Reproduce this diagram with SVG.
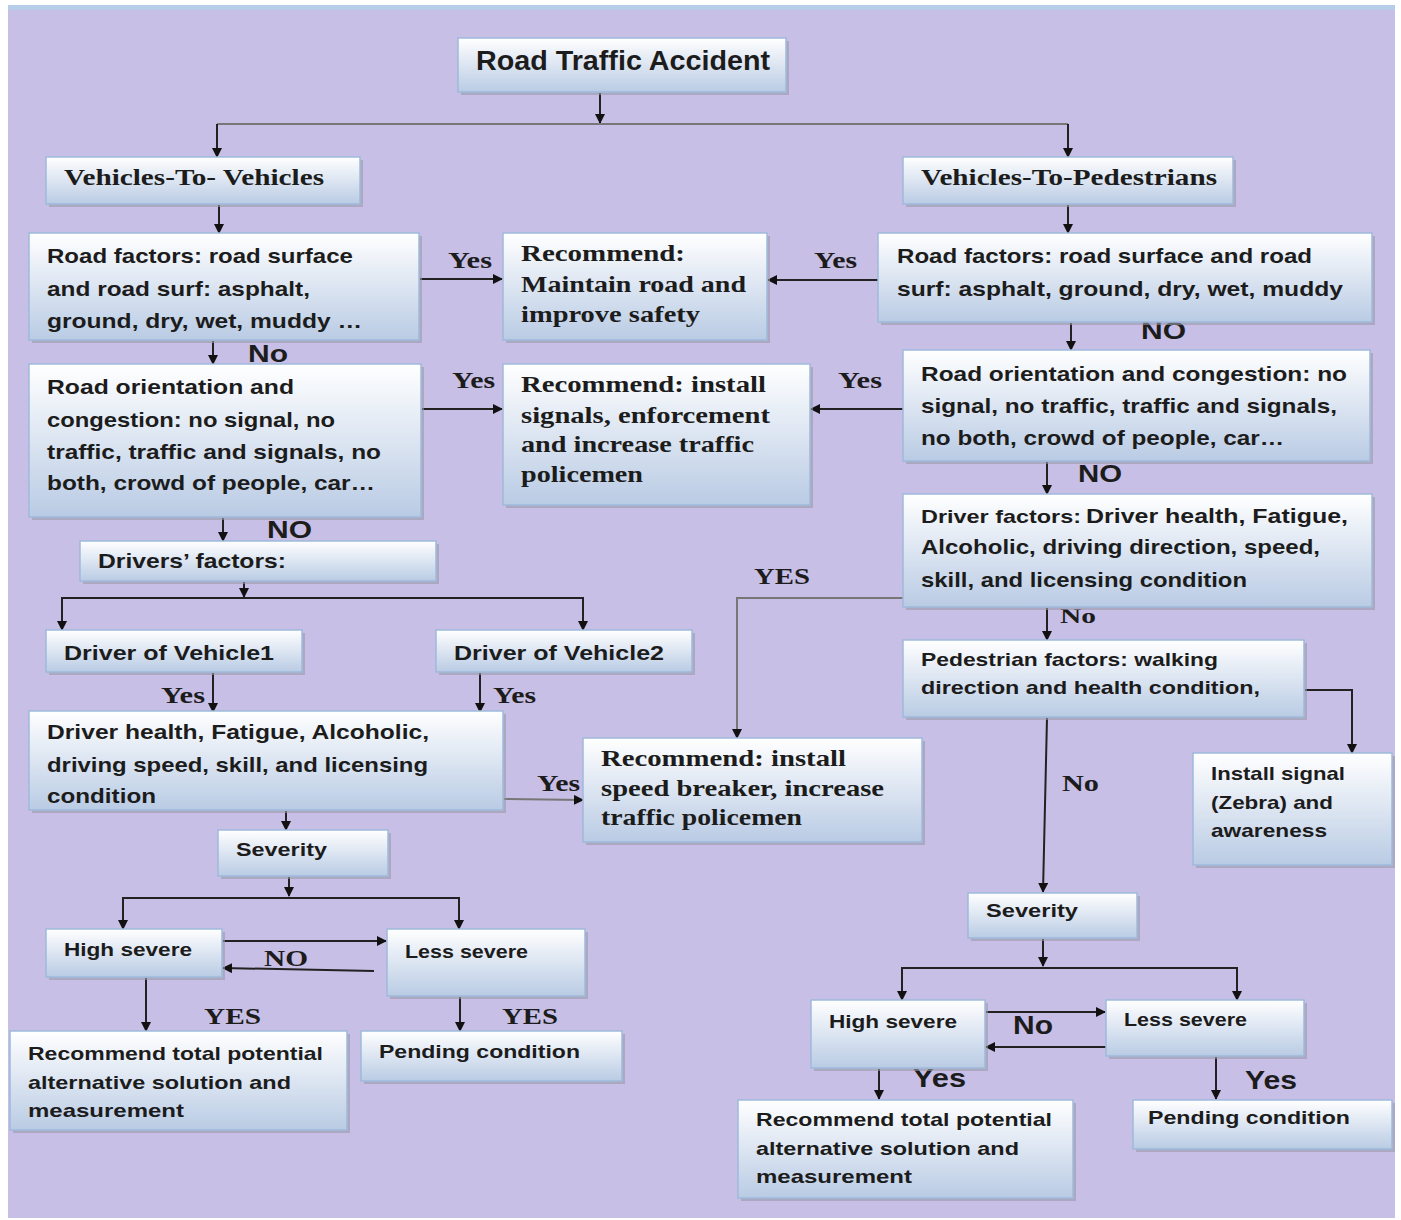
<svg xmlns="http://www.w3.org/2000/svg" width="1401" height="1220" viewBox="0 0 1401 1220">
<defs>
<linearGradient id="g" x1="0" y1="0" x2="0" y2="1">
<stop offset="0" stop-color="#ffffff"/>
<stop offset="1" stop-color="#b9cbe4"/>
</linearGradient>
<marker id="ah" viewBox="0 0 10 10" refX="9" refY="5" markerWidth="10" markerHeight="10" markerUnits="userSpaceOnUse" orient="auto">
<path d="M0,0 L10,5 L0,10 z" fill="#111"/>
</marker>
</defs>
<style>
.bx{fill:url(#g);stroke:#9fbadb;stroke-width:1.5}
.sh{fill:#9a9aa8;opacity:0.6}
.s{font-family:"Liberation Sans",Arial,sans-serif;font-weight:bold;fill:#1c1c1c}
.r{font-family:"Liberation Serif","Times New Roman",serif;font-weight:bold;fill:#1c1c1c}
.m{font-size:21px}
.k{font-size:18.5px}
.w{font-size:24px}
.c line,.c polyline{stroke:#222;stroke-width:2;fill:none}
.c .arr{marker-end:url(#ah)}
.g{stroke:#777 !important}
</style>
<rect x="0" y="0" width="1401" height="1220" fill="#ffffff"/>
<rect x="8" y="5" width="1387" height="1213" fill="#c7bfe5"/>
<rect x="8" y="5" width="1387" height="5" fill="#b6cdea"/>

<g id="connectors" class="c">
<line class="arr" x1="600" y1="93" x2="600" y2="123"/>
<line class="g" x1="217" y1="124" x2="1068" y2="124"/>
<line class="arr" x1="217" y1="124" x2="217" y2="157"/>
<line class="arr" x1="1068" y1="124" x2="1068" y2="157"/>
<line class="arr" x1="219" y1="205" x2="219" y2="233"/>
<line class="arr" x1="1068" y1="205" x2="1068" y2="233"/>
<line class="arr" x1="420" y1="279" x2="502" y2="279"/>
<line class="arr" x1="878" y1="280" x2="768" y2="280"/>
<line class="arr" x1="213" y1="341" x2="213" y2="364"/>
<line class="arr" x1="1071" y1="323" x2="1071" y2="350"/>
<line class="arr" x1="422" y1="409" x2="502" y2="409"/>
<line class="arr" x1="903" y1="409" x2="811" y2="409"/>
<line class="arr" x1="223" y1="518" x2="223" y2="541"/>
<line class="arr" x1="1047" y1="462" x2="1047" y2="494"/>
<line class="arr" x1="244" y1="582" x2="244" y2="597"/>
<line x1="62" y1="598" x2="583" y2="598"/>
<line class="arr" x1="62" y1="597" x2="62" y2="630"/>
<line class="arr" x1="583" y1="597" x2="583" y2="630"/>
<line class="arr" x1="213" y1="673" x2="213" y2="712"/>
<line class="arr" x1="480" y1="673" x2="480" y2="712"/>
<line class="arr g" x1="504" y1="799" x2="583" y2="800"/>
<polyline class="arr g" points="903,598 737,598 737,738"/>
<line class="arr" x1="1047" y1="608" x2="1047" y2="640"/>
<polyline class="arr" points="1305,690 1352,690 1352,753"/>
<line class="arr" x1="1047" y1="718" x2="1043" y2="892"/>
<line class="arr" x1="286" y1="811" x2="286" y2="830"/>
<line class="arr" x1="289" y1="877" x2="289" y2="896"/>
<line x1="123" y1="898" x2="459" y2="898"/>
<line class="arr" x1="123" y1="897" x2="123" y2="929"/>
<line class="arr" x1="459" y1="897" x2="459" y2="929"/>
<line class="arr" x1="223" y1="941" x2="386" y2="941"/>
<line class="arr" x1="374" y1="971" x2="223" y2="968"/>
<line class="arr" x1="146" y1="978" x2="146" y2="1031"/>
<line class="arr" x1="460" y1="997" x2="460" y2="1031"/>
<line class="arr" x1="1043" y1="939" x2="1043" y2="966"/>
<line x1="902" y1="968" x2="1237" y2="968"/>
<line class="arr" x1="902" y1="967" x2="902" y2="1000"/>
<line class="arr" x1="1237" y1="967" x2="1237" y2="1000"/>
<line class="arr" x1="986" y1="1012" x2="1105" y2="1012"/>
<line class="arr" x1="1106" y1="1047" x2="986" y2="1047"/>
<line class="arr" x1="879" y1="1069" x2="879" y2="1099"/>
<line class="arr" x1="1216" y1="1057" x2="1216" y2="1099"/>
</g>

<g id="labels">
<text class="r w" x="448" y="268" textLength="44" lengthAdjust="spacingAndGlyphs">Yes</text>
<text class="r w" x="814" y="268" textLength="43" lengthAdjust="spacingAndGlyphs">Yes</text>
<text class="s w" x="248" y="362" textLength="40" lengthAdjust="spacingAndGlyphs">No</text>
<text class="s w" x="1141" y="339" textLength="45" lengthAdjust="spacingAndGlyphs">NO</text>
<text class="r w" x="452" y="388" textLength="43" lengthAdjust="spacingAndGlyphs">Yes</text>
<text class="r w" x="838" y="388" textLength="44" lengthAdjust="spacingAndGlyphs">Yes</text>
<text class="s w" x="267" y="538" textLength="45" lengthAdjust="spacingAndGlyphs">NO</text>
<text class="s w" x="1078" y="482" textLength="44" lengthAdjust="spacingAndGlyphs">NO</text>
<text class="r w" x="754" y="584" textLength="56" lengthAdjust="spacingAndGlyphs">YES</text>
<text class="r" x="1060" y="623" font-size="22" textLength="36" lengthAdjust="spacingAndGlyphs">No</text>
<text class="r w" x="161" y="703" textLength="44" lengthAdjust="spacingAndGlyphs">Yes</text>
<text class="r w" x="493" y="703" textLength="43" lengthAdjust="spacingAndGlyphs">Yes</text>
<text class="r w" x="537" y="791" textLength="43" lengthAdjust="spacingAndGlyphs">Yes</text>
<text class="r w" x="1062" y="791" textLength="37" lengthAdjust="spacingAndGlyphs">No</text>
<text class="r w" x="264" y="966" textLength="44" lengthAdjust="spacingAndGlyphs">NO</text>
<text class="r w" x="204" y="1024" textLength="57" lengthAdjust="spacingAndGlyphs">YES</text>
<text class="r w" x="502" y="1024" textLength="56" lengthAdjust="spacingAndGlyphs">YES</text>
<text class="s" x="1013" y="1034" font-size="26" textLength="40" lengthAdjust="spacingAndGlyphs">No</text>
<text class="s" x="913" y="1087" font-size="26" textLength="53" lengthAdjust="spacingAndGlyphs">Yes</text>
<text class="s" x="1245" y="1089" font-size="26" textLength="52" lengthAdjust="spacingAndGlyphs">Yes</text>
</g>

<g id="n1"><rect class="sh" x="461" y="41" width="328" height="54"/><rect class="bx" x="458" y="38" width="328" height="54"/><text class="s" x="476" y="70" font-size="27" textLength="294" lengthAdjust="spacingAndGlyphs">Road Traffic Accident</text></g>
<g id="n2"><rect class="sh" x="49" y="160" width="314" height="47"/><rect class="bx" x="46" y="157" width="314" height="47"/><text class="r w" x="64" y="185" textLength="260" lengthAdjust="spacingAndGlyphs">Vehicles-To- Vehicles</text></g>
<g id="n3"><rect class="sh" x="906" y="160" width="330" height="47"/><rect class="bx" x="903" y="157" width="330" height="47"/><text class="r w" x="921" y="185" textLength="296" lengthAdjust="spacingAndGlyphs">Vehicles-To-Pedestrians</text></g>
<g id="n4"><rect class="sh" x="32" y="236" width="390" height="107"/><rect class="bx" x="29" y="233" width="390" height="107"/><text class="s m" lengthAdjust="spacingAndGlyphs"><tspan x="47" y="263" textLength="306" lengthAdjust="spacingAndGlyphs">Road factors: road surface</tspan><tspan x="47" y="296" textLength="263" lengthAdjust="spacingAndGlyphs">and road surf: asphalt,</tspan><tspan x="47" y="328" textLength="315" lengthAdjust="spacingAndGlyphs">ground, dry, wet, muddy …</tspan></text></g>
<g id="n5"><rect class="sh" x="506" y="236" width="264" height="107"/><rect class="bx" x="503" y="233" width="264" height="107"/><text class="r w"><tspan x="521" y="261" textLength="164" lengthAdjust="spacingAndGlyphs">Recommend:</tspan><tspan x="521" y="292" textLength="225" lengthAdjust="spacingAndGlyphs">Maintain road and</tspan><tspan x="521" y="322" textLength="179" lengthAdjust="spacingAndGlyphs">improve safety</tspan></text></g>
<g id="n6"><rect class="sh" x="881" y="236" width="494" height="89"/><rect class="bx" x="878" y="233" width="494" height="89"/><text class="s m"><tspan x="897" y="263" textLength="415" lengthAdjust="spacingAndGlyphs">Road factors: road surface and road</tspan><tspan x="897" y="296" textLength="446" lengthAdjust="spacingAndGlyphs">surf: asphalt, ground, dry, wet, muddy</tspan></text></g>
<g id="n7"><rect class="sh" x="32" y="367" width="392" height="153"/><rect class="bx" x="29" y="364" width="392" height="153"/><text class="s m"><tspan x="47" y="394" textLength="247" lengthAdjust="spacingAndGlyphs">Road orientation and</tspan><tspan x="47" y="427" textLength="288" lengthAdjust="spacingAndGlyphs">congestion: no signal, no</tspan><tspan x="47" y="459" textLength="334" lengthAdjust="spacingAndGlyphs">traffic, traffic and signals, no</tspan><tspan x="47" y="490" textLength="328" lengthAdjust="spacingAndGlyphs">both, crowd of people, car…</tspan></text></g>
<g id="n8"><rect class="sh" x="506" y="367" width="307" height="141"/><rect class="bx" x="503" y="364" width="307" height="141"/><text class="r w"><tspan x="521" y="392" textLength="245" lengthAdjust="spacingAndGlyphs">Recommend: install</tspan><tspan x="521" y="423" textLength="249" lengthAdjust="spacingAndGlyphs">signals, enforcement</tspan><tspan x="521" y="452" textLength="233" lengthAdjust="spacingAndGlyphs">and increase traffic</tspan><tspan x="521" y="482" textLength="122" lengthAdjust="spacingAndGlyphs">policemen</tspan></text></g>
<g id="n9"><rect class="sh" x="906" y="353" width="467" height="111"/><rect class="bx" x="903" y="350" width="467" height="111"/><text class="s m"><tspan x="921" y="381" textLength="426" lengthAdjust="spacingAndGlyphs">Road orientation and congestion: no</tspan><tspan x="921" y="413" textLength="416" lengthAdjust="spacingAndGlyphs">signal, no traffic, traffic and signals,</tspan><tspan x="921" y="445" textLength="363" lengthAdjust="spacingAndGlyphs">no both,  crowd of people, car…</tspan></text></g>
<g id="n10"><rect class="sh" x="83" y="544" width="356" height="40"/><rect class="bx" x="80" y="541" width="356" height="40"/><text class="s m" x="98" y="568" textLength="188" lengthAdjust="spacingAndGlyphs">Drivers’ factors:</text></g>
<g id="n11"><rect class="sh" x="906" y="497" width="469" height="113"/><rect class="bx" x="903" y="494" width="469" height="113"/><text class="s m"><tspan x="921" y="523" font-size="19" textLength="160" lengthAdjust="spacingAndGlyphs">Driver factors:</tspan><tspan x="1086" y="523" textLength="262" lengthAdjust="spacingAndGlyphs">Driver health, Fatigue,</tspan><tspan x="921" y="554" textLength="399" lengthAdjust="spacingAndGlyphs">Alcoholic, driving direction, speed,</tspan><tspan x="921" y="587" textLength="326" lengthAdjust="spacingAndGlyphs">skill, and licensing condition</tspan></text></g>
<g id="n12"><rect class="sh" x="49" y="633" width="256" height="42"/><rect class="bx" x="46" y="630" width="256" height="42"/><text class="s m" x="64" y="660" textLength="210" lengthAdjust="spacingAndGlyphs">Driver of Vehicle1</text></g>
<g id="n13"><rect class="sh" x="439" y="633" width="256" height="42"/><rect class="bx" x="436" y="630" width="256" height="42"/><text class="s m" x="454" y="660" textLength="210" lengthAdjust="spacingAndGlyphs">Driver of Vehicle2</text></g>
<g id="n14"><rect class="sh" x="32" y="714" width="474" height="99"/><rect class="bx" x="29" y="711" width="474" height="99"/><text class="s m"><tspan x="47" y="739" textLength="382" lengthAdjust="spacingAndGlyphs">Driver health, Fatigue, Alcoholic,</tspan><tspan x="47" y="772" textLength="381" lengthAdjust="spacingAndGlyphs">driving speed, skill, and licensing</tspan><tspan x="47" y="803" textLength="109" lengthAdjust="spacingAndGlyphs">condition</tspan></text></g>
<g id="n15"><rect class="sh" x="586" y="741" width="339" height="104"/><rect class="bx" x="583" y="738" width="339" height="104"/><text class="r w"><tspan x="601" y="766" textLength="245" lengthAdjust="spacingAndGlyphs">Recommend: install</tspan><tspan x="601" y="796" textLength="283" lengthAdjust="spacingAndGlyphs">speed breaker, increase</tspan><tspan x="601" y="825" textLength="201" lengthAdjust="spacingAndGlyphs">traffic policemen</tspan></text></g>
<g id="n16"><rect class="sh" x="906" y="643" width="401" height="77"/><rect class="bx" x="903" y="640" width="401" height="77"/><text class="s k"><tspan x="921" y="666" textLength="297" lengthAdjust="spacingAndGlyphs">Pedestrian factors: walking</tspan><tspan x="921" y="694" textLength="339" lengthAdjust="spacingAndGlyphs">direction and health condition,</tspan></text></g>
<g id="n17"><rect class="sh" x="1196" y="756" width="199" height="112"/><rect class="bx" x="1193" y="753" width="199" height="112"/><text class="s k"><tspan x="1211" y="780" textLength="134" lengthAdjust="spacingAndGlyphs">Install signal</tspan><tspan x="1211" y="809" textLength="122" lengthAdjust="spacingAndGlyphs">(Zebra) and</tspan><tspan x="1211" y="837" textLength="116" lengthAdjust="spacingAndGlyphs">awareness</tspan></text></g>
<g id="n18"><rect class="sh" x="221" y="833" width="170" height="46"/><rect class="bx" x="218" y="830" width="170" height="46"/><text class="s k" x="236" y="856" textLength="91" lengthAdjust="spacingAndGlyphs">Severity</text></g>
<g id="n19"><rect class="sh" x="971" y="896" width="169" height="45"/><rect class="bx" x="968" y="893" width="169" height="45"/><text class="s k" x="986" y="917" textLength="92" lengthAdjust="spacingAndGlyphs">Severity</text></g>
<g id="n20"><rect class="sh" x="49" y="932" width="176" height="48"/><rect class="bx" x="46" y="929" width="176" height="48"/><text class="s k" x="64" y="956" textLength="128" lengthAdjust="spacingAndGlyphs">High severe</text></g>
<g id="n21"><rect class="sh" x="390" y="932" width="198" height="67"/><rect class="bx" x="387" y="929" width="198" height="67"/><text class="s k" x="405" y="958" textLength="123" lengthAdjust="spacingAndGlyphs">Less severe</text></g>
<g id="n22"><rect class="sh" x="13" y="1034" width="337" height="99"/><rect class="bx" x="10" y="1031" width="337" height="99"/><text class="s k"><tspan x="28" y="1060" textLength="295" lengthAdjust="spacingAndGlyphs">Recommend total potential</tspan><tspan x="28" y="1089" textLength="263" lengthAdjust="spacingAndGlyphs">alternative solution and</tspan><tspan x="28" y="1117" textLength="156" lengthAdjust="spacingAndGlyphs">measurement</tspan></text></g>
<g id="n23"><rect class="sh" x="364" y="1034" width="261" height="50"/><rect class="bx" x="361" y="1031" width="261" height="50"/><text class="s k" x="379" y="1058" textLength="201" lengthAdjust="spacingAndGlyphs">Pending condition</text></g>
<g id="n24"><rect class="sh" x="814" y="1003" width="174" height="68"/><rect class="bx" x="811" y="1000" width="174" height="68"/><text class="s k" x="829" y="1028" textLength="128" lengthAdjust="spacingAndGlyphs">High severe</text></g>
<g id="n25"><rect class="sh" x="1109" y="1003" width="198" height="56"/><rect class="bx" x="1106" y="1000" width="198" height="56"/><text class="s k" x="1124" y="1026" textLength="123" lengthAdjust="spacingAndGlyphs">Less severe</text></g>
<g id="n26"><rect class="sh" x="741" y="1103" width="335" height="98"/><rect class="bx" x="738" y="1100" width="335" height="98"/><text class="s k"><tspan x="756" y="1126" textLength="296" lengthAdjust="spacingAndGlyphs">Recommend total potential</tspan><tspan x="756" y="1155" textLength="263" lengthAdjust="spacingAndGlyphs">alternative solution and</tspan><tspan x="756" y="1183" textLength="156" lengthAdjust="spacingAndGlyphs">measurement</tspan></text></g>
<g id="n27"><rect class="sh" x="1136" y="1103" width="259" height="49"/><rect class="bx" x="1133" y="1100" width="259" height="49"/><text class="s k" x="1148" y="1124" textLength="202" lengthAdjust="spacingAndGlyphs">Pending condition</text></g>
</svg>
